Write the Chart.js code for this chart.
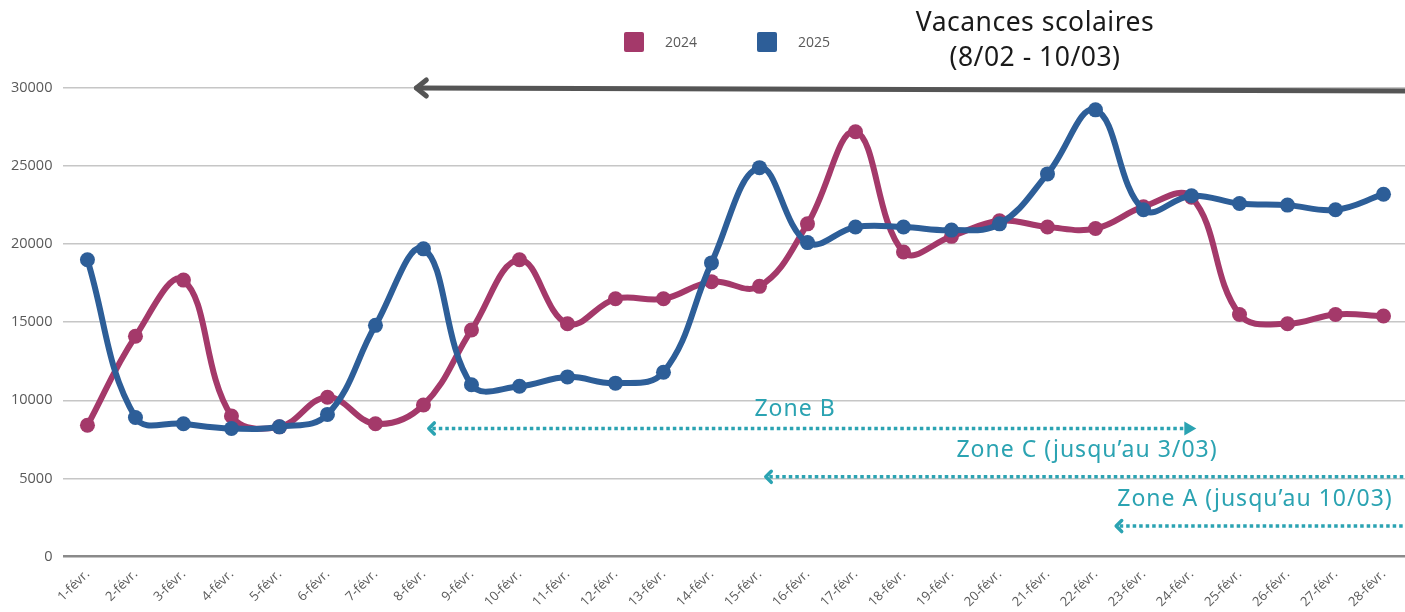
<!DOCTYPE html>
<html lang="fr">
<head>
<meta charset="utf-8">
<title>Vacances scolaires - février</title>
<script src="https://cdn.jsdelivr.net/npm/chart.js@4/dist/chart.umd.min.js"></script>
<style>
  html, body { margin: 0; padding: 0; background: #fff; overflow: hidden; }
  canvas { display: block; }
</style>
</head>
<body>
<canvas id="vacChart" width="1415" height="612"></canvas>
<script>
// data
const days = ['1-févr.','2-févr.','3-févr.','4-févr.','5-févr.','6-févr.','7-févr.','8-févr.','9-févr.','10-févr.',
  '11-févr.','12-févr.','13-févr.','14-févr.','15-févr.','16-févr.','17-févr.','18-févr.','19-févr.','20-févr.',
  '21-févr.','22-févr.','23-févr.','24-févr.','25-févr.','26-févr.','27-févr.','28-févr.'];
const values2024 = [8400,14100,17700,9000,8300,10200,8500,9700,14500,19000,
  14900,16500,16500,17600,17300,21300,27200,19500,20500,21500,
  21100,21000,22400,23000,15500,14900,15500,15400];
const values2025 = [19000,8900,8500,8200,8300,9100,14800,19700,11000,10900,
  11500,11100,11800,18800,24900,20100,21100,21100,20900,21300,
  24500,28600,22200,23100,22600,22500,22200,23200];
const yTicks = [0,5000,10000,15000,20000,25000,30000];

const PURPLE = '#A4396A';
const BLUE = '#2D5E98';
const TEAL = '#2BA3B2';
const TXT = '#595959';

// title, legend and holiday arrows
const overlay = {
  id: 'overlay',
  afterDraw(chart) {
    const ctx = chart.ctx;
    const x = chart.scales.x, y = chart.scales.y;
    const W = chart.width;
    ctx.save();

    // legend
    const legX = [624, 757];
    chart.data.datasets.forEach((ds, i) => {
      ctx.fillStyle = ds.borderColor;
      ctx.beginPath();
      ctx.roundRect(legX[i], 32, 20, 20, 2);
      ctx.fill();
      ctx.fillStyle = TXT;
      ctx.font = '14px "Open Sans"';
      ctx.textBaseline = 'middle';
      ctx.textAlign = 'left';
      ctx.fillText(ds.label, legX[i] + 41, 43);
    });

    // title
    ctx.fillStyle = '#1a1a1a';
    ctx.font = '26.5px "Noto Sans"';
    ctx.letterSpacing = '0.5px';
    ctx.textAlign = 'center';
    ctx.fillText('Vacances scolaires', 1035, 23);
    ctx.fillText('(8/02 - 10/03)', 1035, 58);

    // big grey arrow
    const gx1 = x.getPixelForValue(6.81);
    const gy1 = y.getPixelForValue(30000);
    ctx.strokeStyle = '#555555';
    ctx.lineWidth = 5;
    ctx.lineCap = 'round';
    ctx.lineJoin = 'round';
    ctx.beginPath();
    ctx.moveTo(gx1 + 2, gy1);
    ctx.lineTo(W, y.getPixelForValue(29800));
    ctx.stroke();
    ctx.beginPath();
    ctx.moveTo(gx1 + 12, gy1 - 8);
    ctx.lineTo(gx1 + 2, gy1);
    ctx.lineTo(gx1 + 12, gy1 + 8);
    ctx.stroke();

    function zone(fromIdx, toX, yv, both) {
      const xa = x.getPixelForValue(fromIdx);
      const py = y.getPixelForValue(yv);
      ctx.strokeStyle = TEAL;
      ctx.lineWidth = 3.5;
      ctx.lineCap = 'butt';
      ctx.setLineDash([3.5, 3]);
      ctx.beginPath();
      ctx.moveTo(xa + 5, py);
      ctx.lineTo(toX - (both ? 10 : 0), py);
      ctx.stroke();
      ctx.setLineDash([]);
      // open chevron on the left
      ctx.lineWidth = 3.5;
      ctx.lineCap = 'round';
      ctx.lineJoin = 'round';
      ctx.beginPath();
      ctx.moveTo(xa + 7, py - 5.5);
      ctx.lineTo(xa + 1.5, py);
      ctx.lineTo(xa + 7, py + 5.5);
      ctx.stroke();
      if (both) {
        ctx.fillStyle = TEAL;
        ctx.beginPath();
        ctx.moveTo(toX, py);
        ctx.lineTo(toX - 12, py - 7);
        ctx.lineTo(toX - 12, py + 7);
        ctx.closePath();
        ctx.fill();
      }
    }
    zone(7.08, x.getPixelForValue(23.1), 8200, true);
    zone(14.1, W, 5100, false);
    zone(21.4, W, 1950, false);

    ctx.fillStyle = TEAL;
    ctx.font = '23px "Noto Sans"';
    ctx.letterSpacing = '1px';
    ctx.textAlign = 'center';
    ctx.textBaseline = 'middle';
    ctx.fillText('Zone B', 795, 409);
    ctx.fillText('Zone C (jusqu\u2019au 3/03)', 1087, 450);
    ctx.fillText('Zone A (jusqu\u2019au 10/03)', 1255, 499);
    ctx.restore();
  }
};

new Chart(document.getElementById('vacChart').getContext('2d'), {
  type: 'line',
  data: {
    labels: days,
    datasets: [
      {
        label: '2024',
        data: values2024,
        borderColor: PURPLE,
        backgroundColor: PURPLE,
        pointBackgroundColor: PURPLE,
        borderWidth: 6,
        pointRadius: 7.5,
        pointBorderWidth: 0,
        tension: 0.4,
        order: 2
      },
      {
        label: '2025',
        data: values2025,
        borderColor: BLUE,
        backgroundColor: BLUE,
        pointBackgroundColor: BLUE,
        borderWidth: 6,
        pointRadius: 7.5,
        pointBorderWidth: 0,
        tension: 0.4,
        order: 1
      }
    ]
  },
  options: {
    responsive: false,
    animation: false,
    layout: { padding: { top: 88, left: 0, right: 0, bottom: 0 } },
    plugins: {
      legend: { display: false },
      tooltip: { enabled: false }
    },
    scales: {
      y: {
        min: 0,
        max: 30000,
        afterBuildTicks: (s) => { s.ticks = yTicks.map(v => ({ value: v })); },
        ticks: {
          color: TXT,
          font: { family: 'Open Sans', size: 14.5 },
          padding: 11,
          callback: (v) => String(v)
        },
        grid: {
          drawTicks: false,
          color: (c) => c.tick && c.tick.value === 0 ? '#8a8a8a' : '#c6c6c6',
          lineWidth: (c) => c.tick && c.tick.value === 0 ? 2.5 : 1.5
        },
        border: { display: false }
      },
      x: {
        offset: true,
        grid: { display: false },
        border: { display: false },
        ticks: {
          color: TXT,
          font: { family: 'Open Sans', size: 13 },
          minRotation: 45,
          maxRotation: 45,
          autoSkip: false,
          padding: 2
        }
      }
    }
  },
  plugins: [overlay]
});
</script>
</body>
</html>
